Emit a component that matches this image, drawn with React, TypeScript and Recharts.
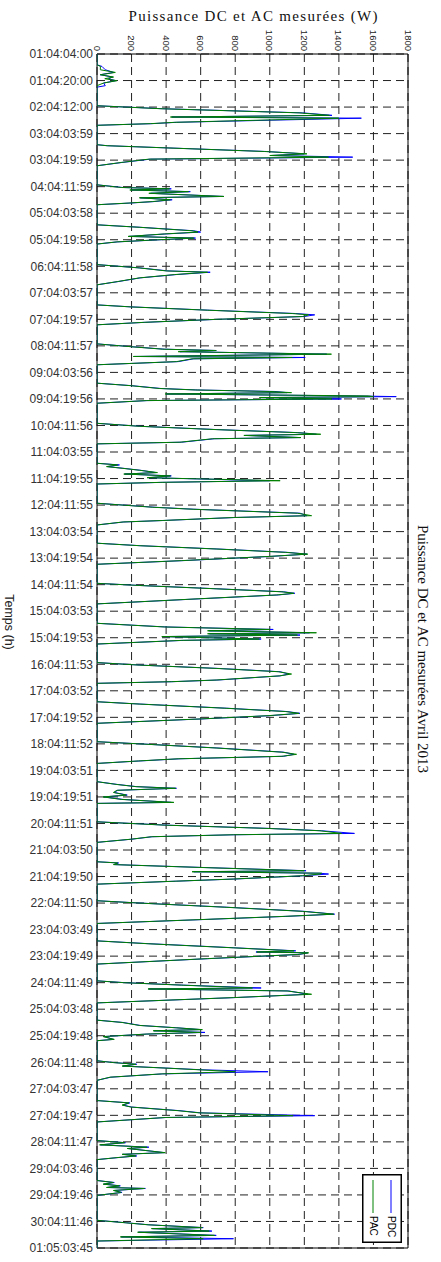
import React from 'react';
import { LineChart, Line, XAxis, YAxis, CartesianGrid, ReferenceArea, Legend } from 'recharts';

// time axis labels (jour:mois:heure:minute), one every 16 h
const tickLabels = [
  '01:04:04:00', '01:04:20:00', '02:04:12:00', '03:04:03:59', '03:04:19:59', '04:04:11:59',
  '05:04:03:58', '05:04:19:58', '06:04:11:58', '07:04:03:57', '07:04:19:57', '08:04:11:57',
  '09:04:03:56', '09:04:19:56', '10:04:11:56', '11:04:03:55', '11:04:19:55', '12:04:11:55',
  '13:04:03:54', '13:04:19:54', '14:04:11:54', '15:04:03:53', '15:04:19:53', '16:04:11:53',
  '17:04:03:52', '17:04:19:52', '18:04:11:52', '19:04:03:51', '19:04:19:51', '20:04:11:51',
  '21:04:03:50', '21:04:19:50', '22:04:11:50', '23:04:03:49', '23:04:19:49', '24:04:11:49',
  '25:04:03:48', '25:04:19:48', '26:04:11:48', '27:04:03:47', '27:04:19:47', '28:04:11:47',
  '29:04:03:46', '29:04:19:46', '30:04:11:46', '01:05:03:45',
];
const tickStepH = 16;
const powerTicks = [0, 200, 400, 600, 800, 1000, 1200, 1400, 1600, 1800];
const seriesNames = ['PDC', 'PAC'];

// hours since 01/04 04:00, one line per day
const timeH = [
  0,
  6.5, 7.5, 9.5, 11.1, 12.5, 13.9, 14.9, 16.1, 17.5, 19.1, 20,
  31.2, 33, 35.5, 37, 38, 38.7, 41.2, 42, 43,
  54.7, 55.3, 58.8, 60.2, 61.2, 62.2, 63.4, 65.4, 67.4,
  78.9, 80.5, 81.3, 82, 83, 84, 85.9, 86.7, 87.9, 89, 89.9, 90.9,
  103, 104.5, 106.6, 107.4, 108.5, 110, 111, 112.2, 113.3, 114.6,
  127, 129, 130.8, 131.6, 133, 135, 137.2, 139.2,
  151.3, 152.5, 154.5, 156.5, 157.3, 158.3, 160, 161.8, 163.3,
  174.8, 176.5, 178, 178.8, 179.5, 181, 182.4, 183, 183.8, 185.5, 187.4,
  198.5, 200, 201.7, 202.6, 203.5, 204.2, 205, 206.2, 206.6, 207.2, 208, 209, 210.6,
  222.7, 224.5, 226.5, 228.3, 229.3, 230, 231.3, 232, 234.1, 235.1,
  246.8, 247.8, 248.8, 249.8, 251, 252.4, 253.3, 254.4, 255.5, 257.3, 258.3, 259.3,
  270.9, 273.3, 274.5, 276.9, 278.4, 279.5, 281.3, 282.2, 284,
  295, 296.5, 298.5, 300.5, 301.6, 303, 305.5, 307.7,
  319.2, 320.5, 322.5, 324.3, 325.2, 326.2, 328.5, 331.6,
  343.3, 345.5, 347, 347.8, 349, 349.6, 350.4, 351.3, 352.8, 353.6, 355.8,
  367, 368.5, 370.5, 372.5, 373.9, 375, 377.5, 378.5, 379.5,
  390.6, 392, 394.5, 396.5, 397.6, 399, 401, 403.6,
  414.7, 416, 418.5, 421, 422.3, 423.5, 425, 426.3, 427.8,
  438.8, 440.5, 441.8, 442.8, 444, 445.3, 446.9, 448, 449.5, 451.3, 451.9,
  463, 465, 467, 468.4, 470, 470.8, 472, 473.5, 475.4,
  487.1, 487.8, 488.8, 490.5, 492.5, 493.1, 494, 494.5, 495.5, 497.5, 498.8, 500.6,
  510.6, 512, 514.5, 517, 518.7, 520, 522, 524.3,
  534.8, 536.5, 539, 540.8, 541.5, 542, 543, 545.5, 548.8,
  558.9, 560, 561.5, 563.2, 563.8, 565, 567, 569, 572.2,
  582.6, 584, 585.8, 587.2, 588.3, 589, 590, 591, 592.5, 594.2, 595,
  607.1, 608.2, 609.2, 610.3, 611.5, 612.5, 613.7, 615, 617, 618.9,
  631.1, 632.5, 633.8, 635, 637.2, 638.5, 640.2, 641.3, 644,
  655.2, 656.5, 657.8, 659.2, 660, 662.5, 663.5, 664.5, 665.5, 666.7,
  679.3, 680.5, 681.5, 682.5, 683.5, 684.1, 685.3, 686.5, 688.3,
  703.3, 704.8, 706, 707.7, 708.3, 709.8, 710.5, 712.4, 713.3, 714.4, 715.8,
  720,
];

// puissance DC (W)
const pdcW = [
  0,
  0, 29, 48, 96, 19, 90, 67, 108, 38, 48, 0,
  0, 380, 1190, 1360, 433, 1530, 460, 320, 0,
  0, 60, 980, 1200, 1010, 1480, 310, 145, 0,
  0, 150, 430, 200, 540, 310, 730, 250, 435, 330, 190, 0,
  0, 250, 560, 600, 400, 185, 570, 330, 120, 0,
  0, 250, 410, 655, 460, 250, 125, 0,
  0, 200, 650, 1150, 1260, 1200, 700, 280, 0,
  0, 200, 390, 690, 480, 1330, 215, 1205, 560, 470, 0,
  0, 200, 370, 580, 1030, 1100, 400, 1500, 1732, 950, 1415, 290, 0,
  0, 250, 700, 1160, 1270, 860, 1175, 680, 490, 0,
  0, 130, 60, 150, 250, 340, 160, 430, 300, 1000, 380, 0,
  0, 330, 560, 1175, 1215, 800, 385, 155, 0,
  0, 250, 700, 1100, 1215, 1000, 500, 0,
  0, 250, 700, 1080, 1145, 1050, 600, 0,
  0, 400, 1020, 650, 1230, 650, 1175, 380, 950, 500, 0,
  0, 250, 700, 1060, 1110, 1060, 700, 440, 0,
  0, 250, 750, 1100, 1175, 1000, 600, 0,
  0, 250, 700, 1080, 1140, 1080, 480, 250, 0,
  0, 120, 230, 460, 120, 100, 175, 40, 150, 430, 0,
  0, 400, 1000, 1300, 1490, 800, 320, 200, 0,
  0, 125, 100, 600, 1210, 560, 1290, 1340, 1200, 800, 460, 0,
  0, 250, 750, 1200, 1375, 1100, 600, 0,
  0, 300, 800, 1150, 920, 1220, 1170, 650, 0,
  0, 160, 500, 950, 300, 1110, 1220, 800, 0,
  0, 150, 250, 460, 600, 330, 625, 290, 40, 95, 0,
  0, 100, 230, 150, 400, 600, 990, 380, 80, 0,
  0, 190, 150, 200, 480, 600, 1260, 400, 0,
  0, 165, 20, 300, 180, 390, 150, 230, 120, 0,
  0, 100, 40, 135, 60, 280, 100, 145, 0,
  0, 170, 300, 615, 320, 665, 240, 690, 140, 790, 0,
  0,
];

// puissance AC (W)
const pacW = [
  0,
  0, 20, 19, 106, 19, 96, 45, 115, 38, 0, 0,
  0, 370, 1170, 1345, 425, 1400, 450, 310, 0,
  0, 58, 970, 1215, 1000, 1340, 300, 140, 0,
  0, 140, 420, 190, 530, 300, 735, 245, 425, 320, 180, 0,
  0, 245, 550, 585, 390, 180, 560, 320, 115, 0,
  0, 245, 400, 640, 450, 245, 120, 0,
  0, 195, 640, 1130, 1225, 1190, 690, 275, 0,
  0, 195, 380, 690, 470, 1357, 210, 1130, 550, 460, 0,
  0, 195, 360, 570, 1000, 1126, 395, 1570, 1600, 940, 1360, 285, 0,
  0, 245, 690, 1150, 1295, 850, 1180, 670, 480, 0,
  0, 120, 55, 145, 245, 350, 155, 425, 290, 1060, 370, 0,
  0, 320, 550, 1160, 1242, 790, 380, 150, 0,
  0, 245, 690, 1090, 1220, 990, 490, 0,
  0, 245, 690, 1070, 1140, 1040, 590, 0,
  0, 390, 1000, 640, 1270, 640, 1160, 375, 940, 490, 0,
  0, 245, 690, 1050, 1126, 1055, 690, 430, 0,
  0, 245, 740, 1090, 1170, 990, 590, 0,
  0, 245, 690, 1070, 1155, 1070, 470, 240, 0,
  0, 115, 225, 455, 115, 95, 170, 35, 140, 445, 0,
  0, 390, 990, 1290, 1415, 790, 315, 195, 0,
  0, 120, 95, 590, 1200, 550, 1300, 1290, 1190, 790, 455, 0,
  0, 245, 740, 1190, 1370, 1090, 590, 0,
  0, 290, 790, 1140, 925, 1225, 1160, 640, 0,
  0, 155, 490, 900, 295, 1100, 1242, 790, 0,
  0, 145, 245, 455, 610, 325, 600, 285, 35, 100, 0,
  0, 95, 225, 145, 395, 585, 800, 375, 75, 0,
  0, 185, 145, 195, 470, 590, 1135, 395, 0,
  0, 160, 15, 290, 175, 395, 145, 225, 115, 0,
  0, 95, 35, 130, 55, 275, 95, 140, 0,
  0, 165, 295, 610, 315, 650, 235, 680, 135, 615, 0,
  0,
];

const rows = timeH.map((h, i) => ({ h, pdc: pdcW[i], pac: pacW[i] }));
const tickHours = tickLabels.map((_, i) => i * tickStepH);

const SANS = '"Liberation Sans", Arial, sans-serif';
const SERIF = '"Liberation Serif", "Times New Roman", serif';

// x tick labels are turned a quarter turn, like the rest of the figure
const PowerTick = (props: any) => {
  const { x, y, payload } = props;
  return (
    <text
      transform={`translate(${x},${y}) rotate(90)`}
      textAnchor="end"
      dominantBaseline="central"
      fontSize={9.5}
      fontFamily={SANS}
      fill="#222"
    >
      {payload.value}
    </text>
  );
};

// rotated legend box: first series on the right
const RotatedLegend = (props: any) => {
  const items = [...(props.payload || [])].sort(
    (a: any, b: any) => seriesNames.indexOf(a.value) - seriesNames.indexOf(b.value)
  );
  return (
    <svg width={40} height={69} style={{ display: 'block' }}>
      <rect x={0.75} y={0.75} width={38.5} height={67.5} fill="#fff" stroke="#000" strokeWidth={1.5} />
      {items.map((it: any, i: number) => {
        const cx = 29 - i * 18;
        return (
          <g key={it.value}>
            <line x1={cx} y1={6} x2={cx} y2={39} stroke={it.color} strokeWidth={1} />
            <text
              transform={`translate(${cx},42) rotate(90)`}
              dominantBaseline="central"
              fontSize={10}
              fontFamily={SANS}
              fill="#000"
            >
              {it.value}
            </text>
          </g>
        );
      })}
    </svg>
  );
};

// inward tick marks on the four sides of the box
const innerAxis = { mirror: true, tick: false, axisLine: false, tickSize: 4, tickLine: { stroke: '#000' }, interval: 0 as const };

export default function App() {
  return (
    <div style={{ position: 'absolute', left: 0, top: 0, width: 441, height: 1262, background: '#fff' }}>
      <LineChart
        width={441}
        height={1262}
        layout="vertical"
        data={rows}
        margin={{ top: 24, right: 33, bottom: 14, left: 17 }}
      >
        <CartesianGrid strokeDasharray="8 5" stroke="#222" strokeWidth={1} />
        <XAxis
          type="number"
          orientation="top"
          domain={[0, 1800]}
          ticks={powerTicks}
          interval={0}
          height={30}
          axisLine={false}
          tickLine={false}
          tickSize={0}
          tickMargin={3}
          tick={<PowerTick />}
          allowDataOverflow
        />
        <XAxis xAxisId="inTop" type="number" orientation="top" domain={[0, 1800]} ticks={powerTicks} height={0} {...innerAxis} />
        <XAxis xAxisId="inBottom" type="number" orientation="bottom" domain={[0, 1800]} ticks={powerTicks} height={0} {...innerAxis} />
        <YAxis
          type="number"
          dataKey="h"
          domain={[0, 720]}
          ticks={tickHours}
          interval={0}
          width={80}
          axisLine={false}
          tickLine={false}
          tickSize={0}
          tickMargin={4}
          tickFormatter={(v: number) => tickLabels[Math.round(v / tickStepH)]}
          tick={{ fontSize: 12, fontFamily: SANS, fill: '#333' }}
          allowDataOverflow
        />
        <YAxis yAxisId="inLeft" type="number" orientation="left" domain={[0, 720]} ticks={tickHours} width={0} {...innerAxis} />
        <YAxis yAxisId="inRight" type="number" orientation="right" domain={[0, 720]} ticks={tickHours} width={0} {...innerAxis} />
        <ReferenceArea x1={0} x2={1800} y1={0} y2={720} fill="none" stroke="#000" strokeWidth={1} ifOverflow="visible" />
        <Line
          type="linear"
          dataKey="pdc"
          name="PDC"
          stroke="#0000ff"
          strokeWidth={1}
          dot={false}
          isAnimationActive={false}
        />
        <Line
          type="linear"
          dataKey="pac"
          name="PAC"
          stroke="#008000"
          strokeWidth={1}
          dot={false}
          isAnimationActive={false}
        />
        <Legend
          layout="vertical"
          align="center"
          verticalAlign="middle"
          content={<RotatedLegend />}
          wrapperStyle={{ left: 362, top: 1174, width: 40, height: 69 }}
        />
      </LineChart>
      <svg
        width={441}
        height={1262}
        style={{ position: 'absolute', left: 0, top: 0, pointerEvents: 'none' }}
      >
        <text x={253} y={21} textAnchor="middle" fontFamily={SERIF} fontSize={15} textLength={249} lengthAdjust="spacing" fill="#111">
          Puissance DC et AC mesurées (W)
        </text>
        <text transform="translate(9,622) rotate(90)" textAnchor="middle" dominantBaseline="central" fontFamily={SANS} fontSize={12.5} fill="#222">
          Temps (h)
        </text>
        <text transform="translate(423,649) rotate(90)" textAnchor="middle" dominantBaseline="central" fontFamily={SERIF} fontSize={15} textLength={248} lengthAdjust="spacing" fill="#111">
          Puissance DC et AC mesurées Avril 2013
        </text>
      </svg>
    </div>
  );
}
